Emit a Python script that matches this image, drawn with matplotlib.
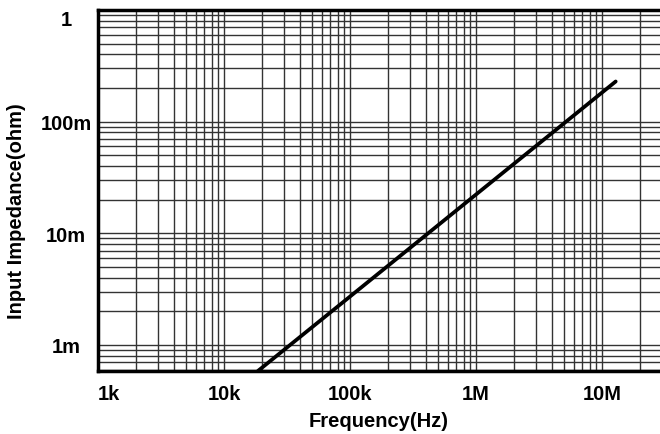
import matplotlib
matplotlib.use("Agg")
import matplotlib.pyplot as plt
import numpy as np
from matplotlib.ticker import LogLocator, NullFormatter, FixedLocator

# Data
freq_hz = [18.6e3, 100e3, 1e6, 12.9e6]
impedance_ohm = [0.585e-3, 2.71e-3, 22.2e-3, 0.229]

x_ticks = [1e3, 1e4, 1e5, 1e6, 1e7]
x_tick_labels = ["1k", "10k", "100k", "1M", "10M"]
y_ticks = [1e-3, 1e-2, 1e-1, 1]
y_tick_labels = ["1m", "10m", "100m", "1"]

plt.rcParams['font.family'] = ['Liberation Sans', 'DejaVu Sans']

W, H = 660, 435
fig = plt.figure(figsize=(W / 100, H / 100), dpi=100)
ax = fig.add_axes([98 / W, 1 - 372 / H, (660 - 98) / W, (372 - 11) / H])

ax.set_xscale('log')
ax.set_yscale('log')
ax.set_xlim(1e3, 2.9e7)
ax.set_ylim(0.585e-3, 1.0)

ax.plot(freq_hz, impedance_ohm, color='black', lw=2.7, solid_capstyle='round', zorder=5)

ax.xaxis.set_major_locator(FixedLocator(x_ticks))
ax.xaxis.set_minor_locator(LogLocator(base=10, subs=np.arange(2, 10), numticks=20))
ax.yaxis.set_major_locator(FixedLocator(y_ticks))
ax.yaxis.set_minor_locator(LogLocator(base=10, subs=np.arange(2, 10), numticks=20))
ax.xaxis.set_minor_formatter(NullFormatter())
ax.yaxis.set_minor_formatter(NullFormatter())
ax.set_xticklabels(x_tick_labels, fontsize=14.5, fontweight='bold')
ax.set_yticklabels(y_tick_labels, fontsize=14.5, fontweight='bold')

ax.grid(True, which='both', color='#333333', lw=1.0)
ax.set_axisbelow(True)

ax.tick_params(which='both', length=0)
ax.tick_params(axis='x', pad=9)
ax.tick_params(axis='y', pad=23)
for lbl in ax.get_yticklabels():
    lbl.set_horizontalalignment('center')
ax.get_xticklabels()[0].set_horizontalalignment('left')
ax.get_yticklabels()[-1].set_verticalalignment('top')

for s in ['left', 'bottom', 'top']:
    ax.spines[s].set_linewidth(2.5)
    ax.spines[s].set_color('black')
ax.spines['right'].set_visible(False)

ax.set_xlabel('Frequency(Hz)', fontsize=14.5, fontweight='bold', labelpad=6)
fig.text(17 / W, 1 - 211.5 / H, 'Input Impedance(ohm)', rotation=90,
         ha='center', va='center', fontsize=14.5, fontweight='bold')

fig.savefig('out.png', dpi=100)
